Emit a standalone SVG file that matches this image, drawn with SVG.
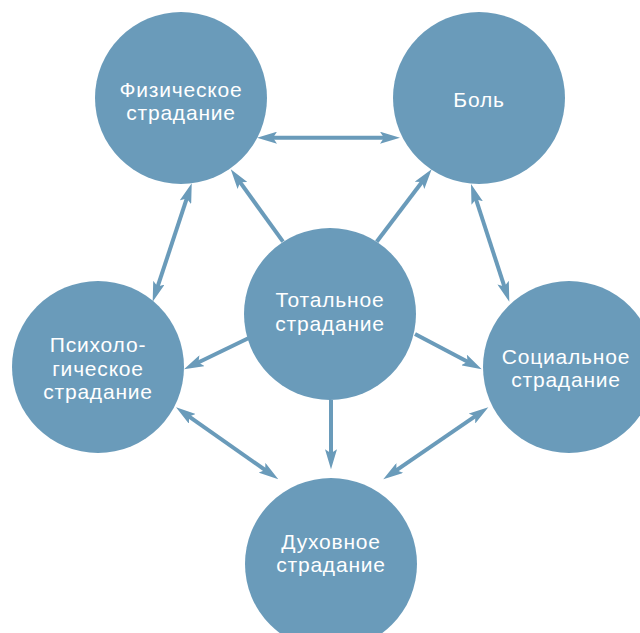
<svg xmlns="http://www.w3.org/2000/svg" width="640" height="633" viewBox="0 0 640 633">
<style>
.node{fill:#6a9bba}
.lbl{fill:#ffffff;font-family:"Liberation Sans",Arial,sans-serif;font-size:21px;letter-spacing:0.8px;text-anchor:middle}
.con{stroke:#6a9bba;stroke-width:4;fill:none}
.e{marker-end:url(#ah)}
.b{marker-start:url(#ah);marker-end:url(#ah)}
</style>
<defs>
<marker id="ah" markerUnits="userSpaceOnUse" markerWidth="20" markerHeight="12" refX="10" refY="6" orient="auto-start-reverse" viewBox="0 0 20 12">
<path d="M0,0 L20,6 L0,12 L4,6 z" fill="#6a9bba"/>
</marker>
</defs>
<rect width="640" height="633" fill="#ffffff"/>
<g id="fizicheskoe">
<circle class="node" cx="181" cy="98" r="86"/>
<text class="lbl" x="181" y="97">Физическое</text>
<text class="lbl" x="181" y="120">страдание</text>
</g>
<g id="bol">
<circle class="node" cx="479" cy="98" r="86"/>
<text class="lbl" x="479" y="107">Боль</text>
</g>
<g id="totalnoe">
<circle class="node" cx="330" cy="314" r="86"/>
<text class="lbl" x="330" y="307">Тотальное</text>
<text class="lbl" x="330" y="331">страдание</text>
</g>
<g id="psihologicheskoe">
<circle class="node" cx="98" cy="367" r="86"/>
<text class="lbl" x="98" y="352">Психоло-</text>
<text class="lbl" x="98" y="376">гическое</text>
<text class="lbl" x="98" y="399">страдание</text>
</g>
<g id="socialnoe">
<circle class="node" cx="569" cy="367" r="86"/>
<text class="lbl" x="566" y="364">Социальное</text>
<text class="lbl" x="566" y="387">страдание</text>
</g>
<g id="duhovnoe">
<circle class="node" cx="331" cy="564" r="86"/>
<text class="lbl" x="331" y="549">Духовное</text>
<text class="lbl" x="331" y="572">страдание</text>
</g>
<g id="connectors">
<line class="con b" x1="267" y1="137.7" x2="390" y2="137.7"/>
<line class="con b" x1="188.6" y1="192.8" x2="155.8" y2="292.2"/>
<line class="con e" x1="283" y1="241.7" x2="236.6" y2="177.4"/>
<line class="con e" x1="376.7" y1="241.7" x2="425.6" y2="177.3"/>
<line class="con b" x1="474.1" y1="193.5" x2="506.2" y2="292.2"/>
<line class="con e" x1="248.3" y1="338.3" x2="193" y2="365"/>
<line class="con e" x1="415" y1="334" x2="472.9" y2="364.6"/>
<line class="con e" x1="331" y1="400" x2="331" y2="459.3"/>
<line class="con b" x1="184.2" y1="413.1" x2="270.1" y2="473.5"/>
<line class="con b" x1="480.1" y1="412.9" x2="391.5" y2="473.6"/>
</g>
</svg>
